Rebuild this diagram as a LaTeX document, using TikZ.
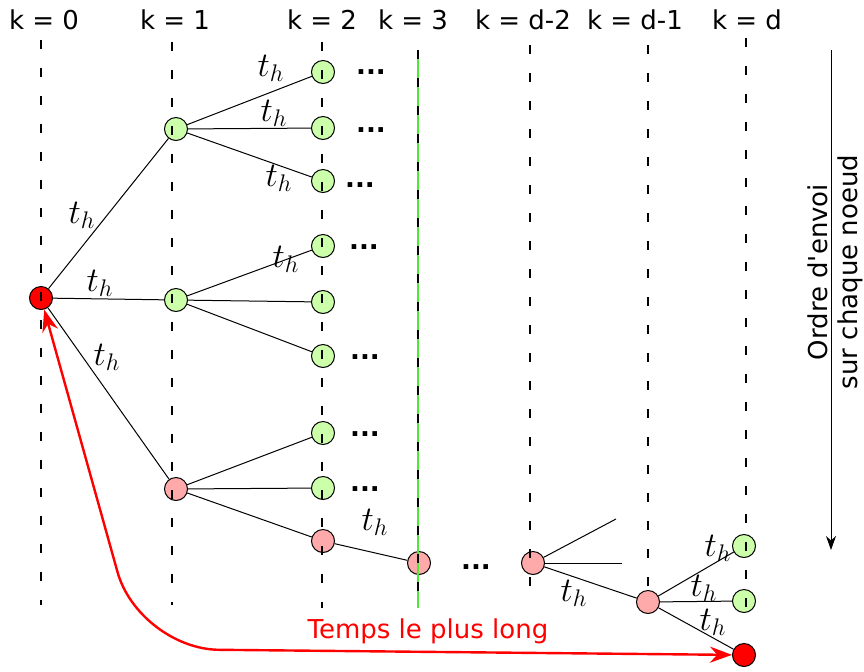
\documentclass[tikz,border=0pt]{standalone}
\usepackage{fontspec}
\setmainfont{DejaVu Sans}
\usetikzlibrary{arrows.meta}

\definecolor{leafgreen}{RGB}{204,255,170}
\definecolor{pathpink}{RGB}{255,170,170}
\definecolor{stepgreen}{RGB}{80,230,60}

\begin{document}
\begin{tikzpicture}[
    x=0.5pt, y=-0.5pt,
    font=\fontsize{13}{15}\selectfont,
    proc/.style={circle, draw, line width=0.5pt, inner sep=0pt, minimum size=11.5pt},
    leaf/.style={proc, fill=leafgreen},
    relay/.style={proc, fill=pathpink},
    ends/.style={proc, fill=red},
    link/.style={line width=0.5pt},
    timeline/.style={line width=1.3pt, dash pattern=on 4.5pt off 9.5pt},
    thlabel/.style={font=\fontsize{17}{20}\selectfont},
    more/.style={font=\fontsize{13}{15}\selectfont\bfseries, inner sep=0pt},
    longest/.style={red, line width=1.2pt, rounded corners=40pt, {Stealth[length=11pt,width=8pt]}-{Stealth[length=11pt,width=8pt]}}
]
\useasboundingbox (0,0) rectangle (864,671);

% step labels
\node (k0) at (44,20) {k = 0};
\node (k1) at (175,20) {k = 1};
\node (k2) at (322,20) {k = 2};
\node (k3) at (413,20) {k = 3};
\node (kd2) at (523,20) {k = d-2};
\node (kd1) at (635,20) {k = d-1};
\node (kd) at (747,20) {k = d};

% nodes
\node[ends] (root) at (41,298) {};

\node[leaf] (a1) at (176,129) {};
\node[leaf] (a2) at (176,300) {};
\node[relay] (a3) at (176,489) {};

\node[leaf] (b1) at (323,72) {};
\node[leaf] (b2) at (323,128) {};
\node[leaf] (b3) at (323,181) {};
\node[leaf] (b4) at (323,246) {};
\node[leaf] (b5) at (323,302) {};
\node[leaf] (b6) at (323,356) {};
\node[leaf] (b7) at (323,433) {};
\node[leaf] (b8) at (323,488) {};
\node[relay] (b9) at (323,541) {};

\node[relay] (c1) at (419,563) {};
\node[relay] (e1) at (533,563) {};
\node[relay] (f1) at (648,602) {};

\node[leaf] (g1) at (744,546) {};
\node[leaf] (g2) at (744,601) {};
\node[ends] (g3) at (744,655) {};

\coordinate (e1up) at (616,519);
\coordinate (e1mid) at (622,563);

% edges
\draw[link] (root) -- (a1);
\draw[link] (root) -- (a2);
\draw[link] (root) -- (a3);
\draw[link] (a1) -- (b1);
\draw[link] (a1) -- (b2);
\draw[link] (a1) -- (b3);
\draw[link] (a2) -- (b4);
\draw[link] (a2) -- (b5);
\draw[link] (a2) -- (b6);
\draw[link] (a3) -- (b7);
\draw[link] (a3) -- (b8);
\draw[link] (a3) -- (b9);
\draw[link] (b9) -- (c1);
\draw[link] (e1) -- (e1up);
\draw[link] (e1) -- (e1mid);
\draw[link] (e1) -- (f1);
\draw[link] (f1) -- (g1);
\draw[link] (f1) -- (g2);
\draw[link] (f1) -- (g3);

% t_h labels
\node[thlabel] (th1) at (82,215) {$t_h$};
\node[thlabel] (th2) at (100,283) {$t_h$};
\node[thlabel] (th3) at (107,357) {$t_h$};
\node[thlabel] (th4) at (271,68) {$t_h$};
\node[thlabel] (th5) at (274,113) {$t_h$};
\node[thlabel] (th6) at (279,178) {$t_h$};
\node[thlabel] (th7) at (286,259) {$t_h$};
\node[thlabel] (th8) at (375,522) {$t_h$};
\node[thlabel] (th9) at (574,593) {$t_h$};
\node[thlabel] (th10) at (718,548) {$t_h$};
\node[thlabel] (th11) at (704,588) {$t_h$};
\node[thlabel] (th12) at (713,622) {$t_h$};

% dots
\node[more] (m1) at (371,72) {...};
\node[more] (m2) at (371,130) {...};
\node[more] (m3) at (360,185) {...};
\node[more] (m4) at (364,247) {...};
\node[more] (m5) at (365,357) {...};
\node[more] (m6) at (365,434) {...};
\node[more] (m7) at (365,489) {...};
\node[more] (m8) at (476,567) {...};

% time steps
\draw[stepgreen, line width=0.7pt] (418,50) -- (418,608);
\foreach \x/\top/\bot in {41/40/605, 172/42/605, 322/42/608, 418/50/608, 530/45/605, 648/45/598, 746/38/612}
  \draw[timeline] (\x,\top) -- (\x,\bot);

% longest path
\coordinate (bend) at (139,649);
\draw[longest] (root) -- (bend) -- (g3);
\node[red] (tlong) at (428,631) {Temps le plus long};

% sending order
\coordinate (ordtop) at (831,50);
\coordinate (ordbot) at (831,550);
\draw[line width=0.5pt, -{Stealth[length=7pt,width=5pt]}] (ordtop) -- (ordbot);
\node[rotate=90, align=center] (ordtxt) at (835,272) {Ordre d\textquotesingle envoi\\sur chaque noeud};

\end{tikzpicture}
\end{document}
